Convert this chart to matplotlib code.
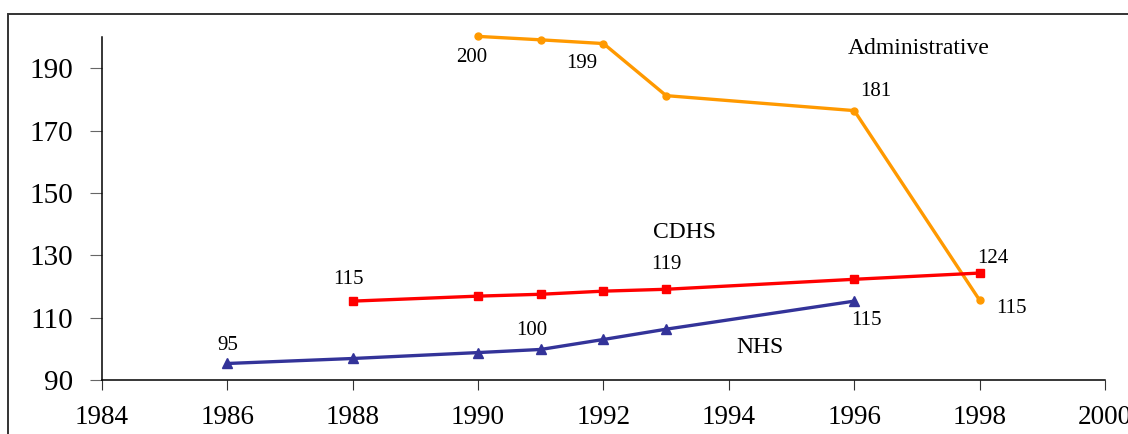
import matplotlib
matplotlib.use('Agg')
import matplotlib.pyplot as plt
from matplotlib.patches import Rectangle

plt.rcParams['font.family'] = ['Liberation Serif', 'DejaVu Serif']

# data
admin_years = [1990, 1991, 1992, 1993, 1996, 1998]
admin_vals = [200.2, 199.1, 197.9, 181.2, 176.4, 115.6]
cdhs_years = [1988, 1990, 1991, 1992, 1993, 1996, 1998]
cdhs_vals = [115.3, 116.9, 117.5, 118.5, 119.1, 122.3, 124.3]
nhs_years = [1986, 1988, 1990, 1991, 1992, 1993, 1996]
nhs_vals = [95.3, 96.9, 98.8, 99.8, 103.0, 106.3, 115.3]

x_ticks = list(range(1984, 2001, 2))
y_ticks = list(range(90, 191, 20))

# value labels and series names as printed on the chart
notes = ['200', '199', 'Administrative', '181', 'CDHS', '119', '115',
         '124', '115', '95', '100', '115', 'NHS']
note_x = [1989.9, 1991.66, 1997.03, 1996.34, 1993.29, 1993.0, 1987.93,
          1998.21, 1998.5, 1986.0, 1990.85, 1996.2, 1994.49]
note_y = [193.5, 191.6, 196.4, 182.6, 137.4, 126.9, 122.2,
          129.1, 112.8, 101.2, 106.0, 109.2, 100.3]
note_size = [15, 15, 17, 15, 17, 15, 15,
             15, 15, 15, 15, 15, 17]

fig = plt.figure(figsize=(11.28, 4.34), dpi=100)
ax = fig.add_axes([0.0904, 0.1244, 0.8892, 0.7903])

ax.plot(admin_years, admin_vals, color='#FF9900', lw=2.4, marker='o', ms=5, clip_on=False)
ax.plot(cdhs_years, cdhs_vals, color='#FF0000', lw=2.4, marker='s', ms=5.5, clip_on=False)
ax.plot(nhs_years, nhs_vals, color='#333399', lw=2.4, marker='^', ms=6.5, clip_on=False)

for t, x, y, s in zip(notes, note_x, note_y, note_size):
    ax.text(x, y, t, ha='center', va='center', fontsize=s, color='black')

ax.set_xlim(1984, 2000)
ax.set_ylim(90, 200)
ax.set_xticks(x_ticks)
ax.set_yticks(y_ticks)
ax.tick_params(axis='x', direction='out', length=7, pad=11, labelsize=19.5, color='#333333')
ax.tick_params(axis='y', direction='out', length=9, pad=12, labelsize=21, color='#666666')
for side in ['top', 'right']:
    ax.spines[side].set_visible(False)
for side in ['left', 'bottom']:
    ax.spines[side].set_linewidth(1.1)

# outer frame (cut at the bottom and right in the original)
fig.patches.append(Rectangle((8 / 1128, -0.1), 1.2, 1.1 - 14 / 434,
                             transform=fig.transFigure, fill=False,
                             edgecolor='#333333', lw=1.4))

fig.savefig('out.png', dpi=100)
